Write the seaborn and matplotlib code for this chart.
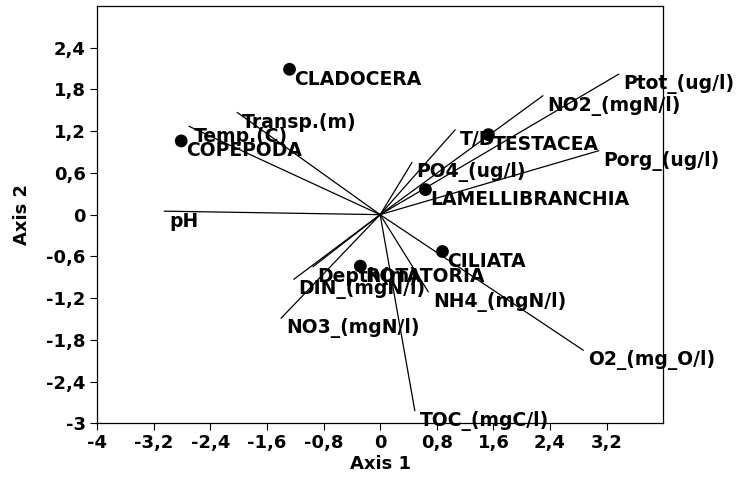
import numpy as np
import pandas as pd
import matplotlib
matplotlib.use("Agg")
import matplotlib.pyplot as plt
import seaborn as sns

# species scores (points)
species = ["CLADOCERA", "COPEPODA", "TESTACEA", "LAMELLIBRANCHIA", "CILIATA", "ROTATORIA"]
sp_x = [-1.28, -2.81, 1.53, 0.64, 0.88, -0.28]
sp_y = [2.09, 1.06, 1.15, 0.36, -0.53, -0.74]

# environmental variables (biplot vectors from the origin)
env = ["pH", "Temp.(C)", "Transp.(m)", "T/D", "PO4_(ug/l)", "NO2_(mgN/l)",
       "Ptot_(ug/l)", "Porg_(ug/l)", "O2_(mg_O/l)", "NH4_(mgN/l)",
       "TOC_(mgC/l)", "Depth(m)", "DIN_(mgN/l)", "NO3_(mgN/l)"]
env_x = [-3.05, -2.70, -2.02, 1.06, 0.45, 2.30, 3.37, 3.09, 2.87, 0.68, 0.49, -0.95, -1.22, -1.40]
env_y = [0.05, 1.27, 1.47, 1.22, 0.75, 1.71, 2.02, 0.92, -1.95, -1.11, -2.82, -0.75, -0.93, -1.49]

xticks = [-4, -3.2, -2.4, -1.6, -0.8, 0, 0.8, 1.6, 2.4, 3.2]
yticks = [-3, -2.4, -1.8, -1.2, -0.6, 0, 0.6, 1.2, 1.8, 2.4]

sns.set_style("ticks")
plt.rcParams["font.family"] = ["DejaVu Sans"]
plt.rcParams["font.weight"] = "bold"
plt.rcParams["text.color"] = "black"
plt.rcParams["axes.labelcolor"] = "black"
FS = 13
LFS = 13.5

fig = plt.figure(figsize=(7.38, 4.79), dpi=100)
ax = fig.add_axes([0.1314, 0.1163, 0.7674, 0.8712])

for x, y in zip(env_x, env_y):
    ax.plot([0, x], [0, y], color="black", lw=0.9, zorder=2)

pts = pd.DataFrame({"x": sp_x, "y": sp_y, "name": species})
sns.scatterplot(data=pts, x="x", y="y", color="black", s=85, edgecolor="none",
                ax=ax, zorder=3, legend=False)

# labels sit just right of and below each point / vector tip
for name, x, y in zip(species + env, sp_x + env_x, sp_y + env_y):
    ax.annotate(name, (x, y), xytext=(3.4, -7.2), textcoords="offset points",
                ha="left", va="center", fontsize=LFS, fontweight="bold",
                color="black", zorder=4)

ax.set_xlim(-4, 4)
ax.set_ylim(-3, 3)
ax.set_xticks(xticks)
ax.set_yticks(yticks)
fmt = lambda v: ("%g" % v).replace(".", ",")
ax.set_xticklabels([fmt(v) for v in xticks])
ax.set_yticklabels([fmt(v) for v in yticks])
ax.tick_params(direction="out", length=5, width=0.8, pad=3, labelsize=FS,
               colors="black", top=False, right=False)
for s in ax.spines.values():
    s.set_visible(True)
    s.set_color("black")
    s.set_linewidth(0.9)

ax.set_xlabel("Axis 1", fontsize=FS, fontweight="bold", labelpad=2)
ax.set_ylabel("Axis 2", fontsize=FS, fontweight="bold", labelpad=11)

fig.savefig("out.png", dpi=100)
